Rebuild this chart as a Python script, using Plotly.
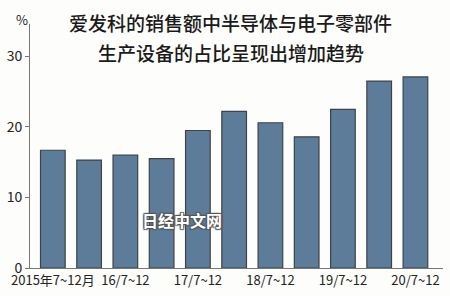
import plotly.graph_objects as go

categories = ["2015年7~12月", "16/1~6", "16/7~12", "17/1~6", "17/7~12", "18/1~6",
              "18/7~12", "19/1~6", "19/7~12", "20/1~6", "20/7~12"]
values = [16.7, 15.3, 16.0, 15.5, 19.5, 22.2, 20.6, 18.6, 22.5, 26.5, 27.1]
tick_labels = ["2015年7~12月", "", "16/7~12", "", "17/7~12", "", "18/7~12", "", "19/7~12", "", "20/7~12"]
y_ticks = [0, 10, 20, 30]
title_lines = ["爱发科的销售额中半导体与电子零部件", "生产设备的占比呈现出增加趋势"]

x_idx = list(range(len(categories)))

fig = go.Figure()
fig.add_trace(go.Bar(
    x=x_idx, y=values,
    marker=dict(color="#5d7c99", line=dict(color="#3d4349", width=1.2)),
    width=0.68,
    hovertext=categories,
))

font_cjk = "Noto Sans CJK SC, Noto Sans, sans-serif"

# plot area: left 25px, right 443px, top 24px, bottom 268px
L, R, T, B = 25, 443, 24, 268
def px(x):
    return (x - L) / (R - L)
def py(y):
    return (B - y) / (B - T)

fig.update_layout(
    width=450, height=296,
    margin=dict(l=L, r=450 - R, t=T, b=296 - B),
    paper_bgcolor="#fdfdfb",
    plot_bgcolor="#fdfdfb",
    showlegend=False,
    font=dict(family=font_cjk, color="#222222"),
    xaxis=dict(
        range=[-0.63, 10.76],
        tickmode="array", tickvals=x_idx, ticktext=tick_labels,
        showline=True, linecolor="#777777", linewidth=1,
        ticks="", showgrid=False, zeroline=False,
        tickfont=dict(size=13, color="#222222"),
        fixedrange=True,
    ),
    yaxis=dict(
        range=[0, 34.6],
        tickmode="array", tickvals=y_ticks,
        showline=True, linecolor="#777777", linewidth=1,
        ticks="outside", ticklen=4, tickcolor="#777777",
        showgrid=False, zeroline=False,
        tickfont=dict(size=14, color="#222222"),
        fixedrange=True,
    ),
)

fig.add_annotation(text="%", xref="paper", yref="paper", x=px(17), y=py(20),
                   xanchor="center", yanchor="middle", showarrow=False,
                   font=dict(size=13, color="#222222"))
for line, yc in zip(title_lines, [22, 52]):
    fig.add_annotation(text=line, xref="paper", yref="paper", x=px(228), y=py(yc),
                       xanchor="center", yanchor="middle", showarrow=False,
                       font=dict(size=19, color="#1a1a1a", weight=500))
fig.add_annotation(text="日经中文网", xref="paper", yref="paper",
                   x=px(179), y=py(220),
                   xanchor="center", yanchor="middle", showarrow=False,
                   font=dict(size=16, color="#ffffff", weight="bold",
                             shadow="1px 1px 1px #555, -1px -1px 1px #555, 1px -1px 1px #555, -1px 1px 1px #555"))

fig.write_html("out.html")
